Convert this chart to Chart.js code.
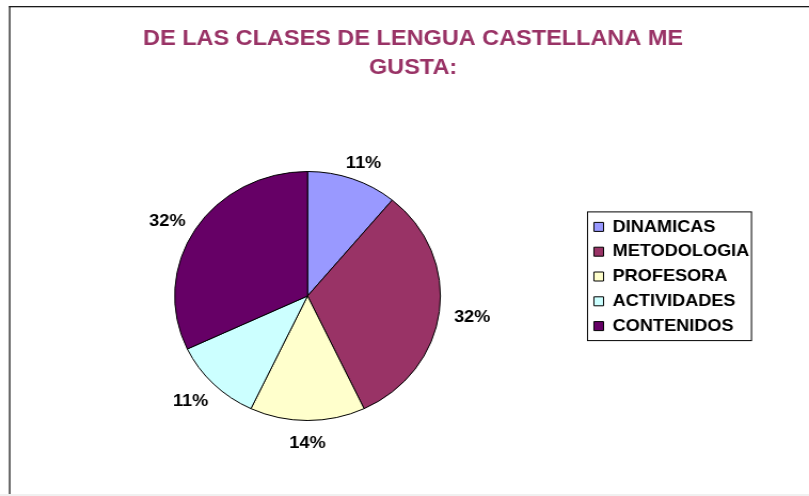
<!DOCTYPE html>
<html>
<head>
<meta charset="utf-8">
<title>De las clases de Lengua Castellana me gusta</title>
<script src="https://cdn.jsdelivr.net/npm/chart.js@4.4.1/dist/chart.umd.min.js"></script>
<style>
  html, body { margin: 0; padding: 0; background: #f0f0f0; }
  #myChart { display: block; }
</style>
</head>
<body>
<!-- the original picture is stretched ~1.068x sideways, so draw at 758px and let the inline style widen it -->
<canvas id="myChart" width="758" height="496" style="width:809px;height:496px"></canvas>
<script>
const categorias = ["DINAMICAS", "METODOLOGIA", "PROFESORA", "ACTIVIDADES", "CONTENIDOS"];
const porcentajes = [11, 32, 14, 11, 32];
const colores = ["#9999ff", "#993366", "#ffffcc", "#ccffff", "#660066"];
const titulo = ["DE LAS CLASES DE LENGUA CASTELLANA ME", "GUSTA:"];

const FUENTE = "'Liberation Sans', Arial, sans-serif";

// white sheet, frame and the two title lines
const fondo = {
  id: "fondo",
  beforeDraw(chart) {
    const ctx = chart.ctx;
    ctx.save();
    ctx.fillStyle = "#ffffff";
    ctx.fillRect(0, 0, chart.width, 494);
    ctx.fillStyle = "#f0f0f0";
    ctx.fillRect(0, 494, chart.width, chart.height - 494);
    ctx.fillStyle = "#1a1a1a";
    ctx.fillRect(8.4, 6, 1.3, 488);
    ctx.fillRect(8.4, 6, chart.width, 1.3);

    ctx.fillStyle = "#993366";
    ctx.font = "bold 22px " + FUENTE;
    ctx.textAlign = "center";
    ctx.textBaseline = "middle";
    titulo.forEach((linea, i) => ctx.fillText(linea, 387, 39 + i * 28.5));
    ctx.restore();
  }
};

// percentage labels outside each slice
const etiquetas = {
  id: "etiquetas",
  afterDatasetsDraw(chart) {
    const ctx = chart.ctx;
    const valores = chart.data.datasets[0].data;
    const total = valores.reduce((a, b) => a + b, 0);
    ctx.save();
    ctx.fillStyle = "#000000";
    ctx.font = "bold 17px " + FUENTE;
    ctx.textAlign = "center";
    ctx.textBaseline = "middle";
    chart.getDatasetMeta(0).data.forEach((arc, i) => {
      const { x, y, startAngle, endAngle, outerRadius } = arc.getProps(
        ["x", "y", "startAngle", "endAngle", "outerRadius"], true);
      const medio = (startAngle + endAngle) / 2;
      const dx = Math.cos(medio);
      const dy = Math.sin(medio);
      const texto = Math.round((valores[i] / total) * 100) + "%";
      const w = ctx.measureText(texto).width;
      const r = outerRadius + 14;
      ctx.fillText(texto, x + dx * (r + w / 2), y + dy * (r + 6) + 3);
    });
    ctx.restore();
  }
};

// thin box round the legend
const marcoLeyenda = {
  id: "marcoLeyenda",
  afterDraw(chart) {
    const cajas = chart.legend.legendHitBoxes;
    if (!cajas || !cajas.length) return;
    const izq = Math.min(...cajas.map((c) => c.left));
    const der = Math.max(...cajas.map((c) => c.left + c.width));
    const arr = Math.min(...cajas.map((c) => c.top));
    const aba = Math.max(...cajas.map((c) => c.top + c.height));
    const ctx = chart.ctx;
    ctx.save();
    ctx.strokeStyle = "#000000";
    ctx.lineWidth = 1;
    ctx.strokeRect(izq - 6, arr - 6.5, der - izq + 8, aba - arr + 12.5);
    ctx.restore();
  }
};

document.addEventListener("DOMContentLoaded", () => {
  Chart.defaults.font.family = FUENTE;
  const ctx = document.getElementById("myChart").getContext("2d");

  const myChart = new Chart(ctx, {
    type: "pie",
    data: {
      labels: categorias,
      datasets: [
        {
          data: porcentajes,
          backgroundColor: colores,
          borderColor: "#000000",
          borderWidth: 1,
          radius: 124.5,
          clip: false,
        },
      ],
    },
    options: {
      responsive: false,
      devicePixelRatio: 1,
      animation: false,
      layout: {
        padding: { left: 27.6, right: 45.9, top: 210.6, bottom: 114.6 },
      },
      plugins: {
        title: { display: false },
        tooltip: { enabled: false },
        legend: {
          position: "right",
          align: "start",
          labels: {
            boxWidth: 9,
            boxHeight: 9,
            padding: 7.8,
            color: "#000000",
            font: { size: 17, weight: "bold" },
          },
        },
      },
    },
    plugins: [fondo, etiquetas, marcoLeyenda],
  });
});
</script>
</body>
</html>
